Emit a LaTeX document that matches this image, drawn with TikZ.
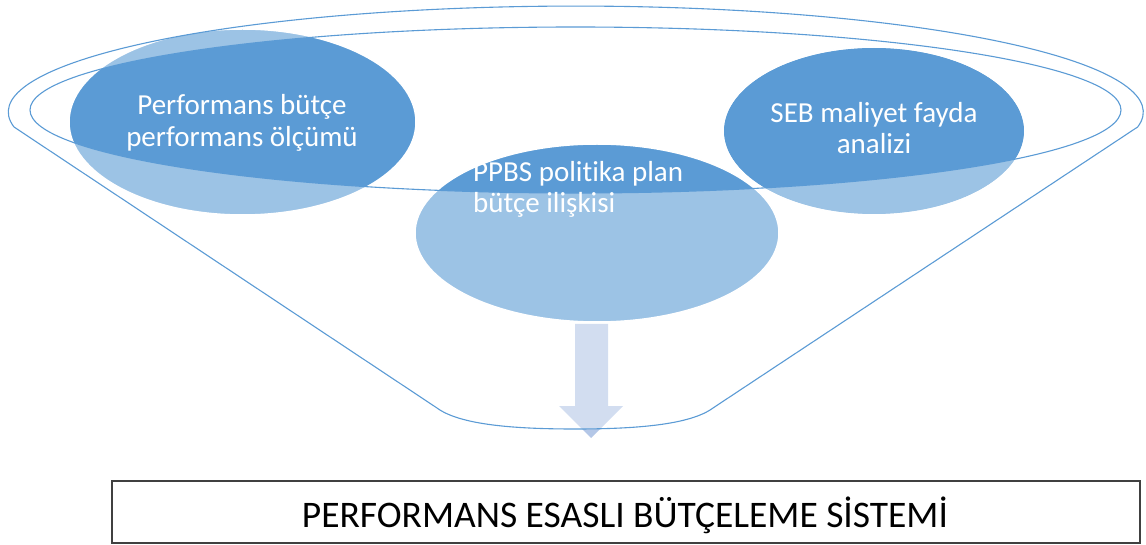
\documentclass[tikz,border=0pt]{standalone}
\usepackage{fontspec}
\setmainfont{Carlito}[Ligatures={NoCommon}]
\definecolor{accent}{HTML}{5B9BD5}
\definecolor{arrowblue}{HTML}{B4C7E7}
\definecolor{boxgray}{HTML}{404040}
\begin{document}
\begin{tikzpicture}[x=1pt,y=1pt,
  blob/.style={fill=accent,draw=white,line width=1.5pt},
  outline/.style={draw=accent,line width=1.1pt},
  wtext/.style={text=white,font=\fontsize{29}{34}\selectfont,inner sep=0pt},
  bigtext/.style={text=black,font=\fontsize{37.5}{42}\selectfont,inner sep=0pt}]
\useasboundingbox (0,0) rectangle (1146,-545);
% blue ellipses
\fill[blob] (242.5,-122) ellipse [x radius=173.5, y radius=93];
\fill[blob] (597,-233) ellipse [x radius=182, y radius=89];
\fill[blob] (874,-131) ellipse [x radius=151, y radius=84];
\draw[white,line width=1.5pt] (874,-131) ellipse [x radius=151, y radius=84];
% down arrow
\fill[arrowblue] (575,-324) -- (608,-324) -- (608,-406) -- (623,-406) -- (591,-438)
  -- (559,-406) -- (575,-406) -- cycle;
% funnel body overlay (semi-transparent white)
\fill[white,fill opacity=0.4,even odd rule]
  (14,-127) arc[start angle=188.1, end angle=-8.1, x radius=567.5, y radius=106]
  -- (713,-408) .. controls (690,-425) and (635,-429) .. (575,-429)
  .. controls (515,-429) and (460,-425) .. (437,-408) -- cycle
  (575.5,-110) ellipse [x radius=545.5, y radius=83];
% funnel outlines
\draw[outline]
  (14,-127) arc[start angle=188.1, end angle=-8.1, x radius=567.5, y radius=106]
  -- (713,-408) .. controls (690,-425) and (635,-429) .. (575,-429)
  .. controls (515,-429) and (460,-425) .. (437,-408) -- cycle;
\draw[outline] (575.5,-110) ellipse [x radius=545.5, y radius=83];
% texts
\node[wtext,anchor=base] (l1) at (242,-115) {Performans bütçe};
\node[wtext,anchor=base] (l2) at (242,-147) {performans ölçümü};
\node[wtext,anchor=base west] (p1) at (473,-182) {PPBS politika plan};
\node[wtext,anchor=base west] (p2) at (473,-213) {bütçe ilişkisi};
\node[wtext,anchor=base] (s1) at (874,-123) {SEB maliyet fayda};
\node[wtext,anchor=base] (s2) at (874,-154) {analizi};
% bottom box
\node[draw=boxgray,line width=1.2pt,minimum width=1028pt,minimum height=62pt,inner sep=0pt] (box) at (626,-512) {};
\node[bigtext,anchor=base] (bt) at (625,-527) {PERFORMANS ESASLI BÜTÇELEME SİSTEMİ};
\end{tikzpicture}
\end{document}
